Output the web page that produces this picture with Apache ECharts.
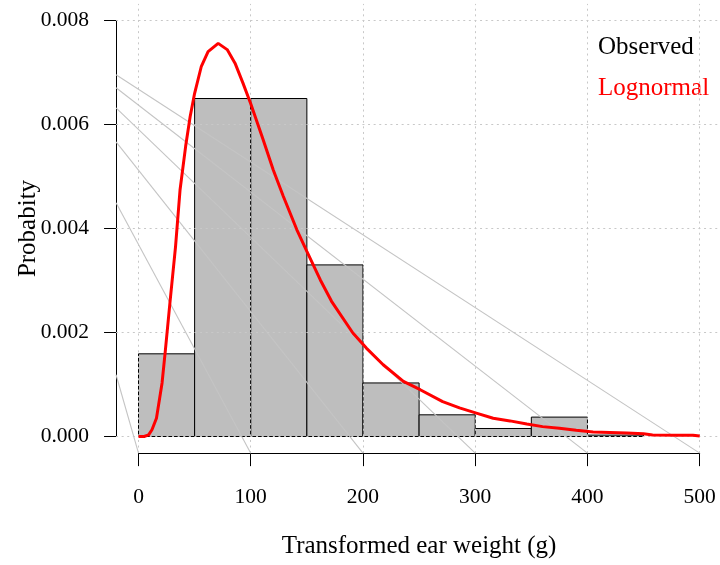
<!DOCTYPE html>
<html>
<head>
<meta charset="utf-8">
<script src="https://cdn.jsdelivr.net/npm/echarts@6/dist/echarts.min.js"></script>
<style>
  html, body { margin: 0; padding: 0; background: #fff; }
  #chart { width: 720px; height: 565px; }
</style>
</head>
<body>
<div id="chart"></div>
<script>
// Histogram bins (g) and observed density per bin
const binEdges = [0, 50, 100, 150, 200, 250, 300, 350, 400, 450];
const observedDensity = [0.00159, 0.0065, 0.0065, 0.0033, 0.00103, 0.000417, 0.000154, 0.000373, 0.000027];

// Fitted lognormal density curve
const curveX = [0, 5, 9, 12, 16, 21, 24, 28, 33, 37, 42, 46, 50, 56, 62, 71, 79, 86, 93, 100, 111, 120, 129, 141, 150, 162, 172, 191, 203, 218, 236, 251, 271, 286, 301, 316, 331, 346, 360, 375, 390, 405, 420, 435, 450, 458, 479, 494, 500];
const curveY = [0, 0, 0.00003, 0.00013, 0.00035, 0.00103, 0.00167, 0.00257, 0.00365, 0.00474, 0.00558, 0.00615, 0.0066, 0.00712, 0.0074, 0.00756, 0.00744, 0.00718, 0.0068, 0.0064, 0.00571, 0.00513, 0.00462, 0.00398, 0.00356, 0.00301, 0.0026, 0.00199, 0.0017, 0.00138, 0.00106, 0.0009, 0.00067, 0.00055, 0.00045, 0.00035, 0.0003, 0.00024, 0.00019, 0.00016, 0.00012, 0.000085, 0.000077, 0.000065, 0.000052, 0.00003, 0.000025, 0.000025, 0.00001];

// Light guide lines running from the left edge of the plot region to the tick marks
const guideStartY = [0.001187, 0.004494, 0.005667, 0.006321, 0.006706, 0.006956];
const guideEndX = [0, 100, 200, 300, 400, 500];

// Axis ticks
const xTicks = [0, 100, 200, 300, 400, 500];
const yTicks = [0, 0.002, 0.004, 0.006, 0.008];

// Plot region extends 4% beyond the data range on every side
const xRange = [0, 500];
const yRange = [0, 0.008];
const xPad = (xRange[1] - xRange[0]) * 0.04;
const yPad = (yRange[1] - yRange[0]) * 0.04;
const xLim = [xRange[0] - xPad, xRange[1] + xPad];
const yLim = [yRange[0] - yPad, yRange[1] + yPad];

const FONT = '"Liberation Serif", "Times New Roman", serif';

// Pixel frame of the tick range; the plot region adds the 4% padding around it
const frame = { left: 138.5, right: 20.3, top: 20.5, bottom: 128.5 };
const pxPerX = (720 - frame.left - frame.right) / (xRange[1] - xRange[0]);
const pxPerY = (565 - frame.top - frame.bottom) / (yRange[1] - yRange[0]);
const padX = xPad * pxPerX;
const padY = yPad * pxPerY;

const barData = observedDensity.map((d, i) => [binEdges[i], binEdges[i + 1], d]);
const curveData = curveX.map((x, i) => [x, curveY[i]]);
const guideData = guideStartY.map((y, i) => ({
  coords: [[xLim[0], y], [guideEndX[i], yLim[0]]]
}));

// Dotted reference grid across the whole plot region
const gridData = xTicks.map(v => ({ coords: [[v, yLim[0]], [v, yLim[1]]] }))
  .concat(yTicks.map(v => ({ coords: [[xLim[0], v], [xLim[1], v]] })));

const chart = echarts.init(document.getElementById('chart'), null, { renderer: 'canvas' });

chart.setOption({
  animation: false,
  backgroundColor: '#fff',
  textStyle: { fontFamily: FONT },
  grid: [
    // full plot region (data)
    {
      left: frame.left - padX, right: frame.right - padX,
      top: frame.top - padY, bottom: frame.bottom - padY,
      outerBoundsMode: 'none', containLabel: false
    },
    // axis frame spanning the tick range
    Object.assign({ outerBoundsMode: 'none', containLabel: false }, frame)
  ],
  xAxis: [
    { gridIndex: 0, type: 'value', min: xLim[0], max: xLim[1], show: false },
    {
      gridIndex: 1, type: 'value', min: xRange[0], max: xRange[1], interval: 100,
      offset: padY,
      axisLine: { show: true, onZero: false, lineStyle: { color: '#000', width: 1 } },
      axisTick: { show: true, length: 13, lineStyle: { color: '#000', width: 1 } },
      axisLabel: { color: '#000', fontSize: 21.5, fontFamily: FONT, margin: 33 },
      splitLine: { show: false },
      name: 'Transformed ear weight (g)',
      nameLocation: 'middle',
      nameGap: 81,
      nameMoveOverlap: false,
      nameTextStyle: { color: '#000', fontSize: 25, fontFamily: FONT }
    }
  ],
  yAxis: [
    { gridIndex: 0, type: 'value', min: yLim[0], max: yLim[1], show: false },
    {
      gridIndex: 1, type: 'value', min: yRange[0], max: yRange[1], interval: 0.002,
      offset: padX,
      axisLine: { show: true, onZero: false, lineStyle: { color: '#000', width: 1 } },
      axisTick: { show: true, length: 12, lineStyle: { color: '#000', width: 1 } },
      axisLabel: { color: '#000', fontSize: 21.5, fontFamily: FONT, margin: 27, formatter: v => v.toFixed(3) },
      splitLine: { show: false },
      name: 'Probabity',
      nameLocation: 'middle',
      nameGap: 75,
      nameRotate: 90,
      nameMoveOverlap: false,
      nameTextStyle: { color: '#000', fontSize: 25, fontFamily: FONT }
    }
  ],
  legend: {
    orient: 'vertical',
    left: 588,
    top: 30,
    itemWidth: 0,
    itemHeight: 0,
    itemGap: 16,
    selectedMode: false,
    textStyle: { fontSize: 25, fontFamily: FONT },
    data: [
      { name: 'Observed', icon: 'rect', textStyle: { color: '#000' } },
      { name: 'Lognormal', icon: 'rect', textStyle: { color: '#ff0000' } }
    ]
  },
  series: [
    {
      name: 'Observed',
      type: 'custom',
      xAxisIndex: 0,
      yAxisIndex: 0,
      z: 2,
      itemStyle: { color: '#bebebe' },
      renderItem: (params, api) => {
        const p0 = api.coord([api.value(0), api.value(2)]);
        const p1 = api.coord([api.value(1), 0]);
        return {
          type: 'rect',
          shape: { x: p0[0], y: p0[1], width: p1[0] - p0[0], height: p1[1] - p0[1] },
          style: { fill: '#bebebe', stroke: '#000', lineWidth: 1 }
        };
      },
      encode: { x: [0, 1], y: 2 },
      data: barData
    },
    {
      name: 'guides',
      type: 'lines',
      coordinateSystem: 'cartesian2d',
      xAxisIndex: 0,
      yAxisIndex: 0,
      z: 3,
      silent: true,
      lineStyle: { color: '#c4c4c4', width: 1.1, opacity: 1 },
      data: guideData
    },
    {
      name: 'gridlines',
      type: 'lines',
      coordinateSystem: 'cartesian2d',
      xAxisIndex: 0,
      yAxisIndex: 0,
      z: 4,
      silent: true,
      lineStyle: { color: '#c8c8c8', width: 1, opacity: 1, type: [2, 3.6] },
      data: gridData
    },
    {
      name: 'Lognormal',
      type: 'line',
      xAxisIndex: 0,
      yAxisIndex: 0,
      z: 5,
      showSymbol: false,
      symbol: 'none',
      itemStyle: { color: '#ff0000' },
      lineStyle: { color: '#ff0000', width: 3 },
      data: curveData
    }
  ]
});
</script>
</body>
</html>
